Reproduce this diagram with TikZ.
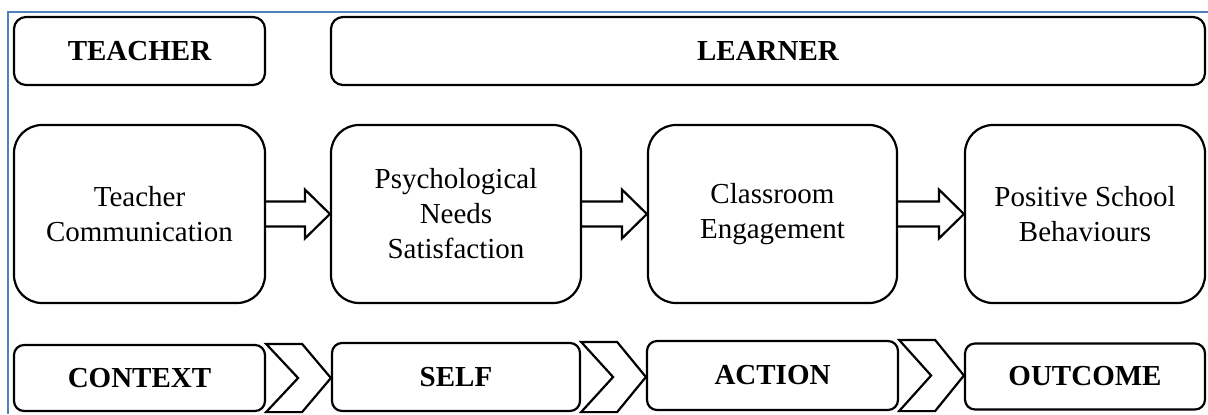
\documentclass[tikz,border=0pt]{standalone}
\usepackage{fontspec}
\setmainfont{Liberation Serif}
\usetikzlibrary{calc}
\definecolor{frameblue}{RGB}{79,129,189}

\begin{document}
\begin{tikzpicture}[x=0.5pt,y=-0.5pt]
	\tikzstyle{every node}=[draw,line width=1.1pt,align=center,inner sep=0pt,font=\fontsize{14.5}{17.5}\selectfont]
	\tikzstyle{head}=[rounded corners=6pt,minimum height=34pt,font=\fontsize{14.5}{17.5}\selectfont\bfseries]
	\tikzstyle{stage}=[rounded corners=14pt,minimum height=89pt]
	\tikzstyle{phase}=[rounded corners=5pt,minimum height=33pt,font=\fontsize{14.5}{17.5}\selectfont\bfseries]
	\tikzstyle{fat arrow}=[line width=1.1pt,line join=miter]
	\tikzstyle{chevron}=[line width=1.1pt,line join=miter]
	\useasboundingbox (0,0) rectangle (1208,414);
	\draw[line width=1pt,frameblue] (8,414) -- (8,12) -- (1208,12);
	\node[head,minimum width=125.5pt] (teacher) at (139.5,51) {TEACHER};
	\node[head,minimum width=437pt] (learner) at (768,51) {LEARNER};
	\node[stage,minimum width=125.5pt] (comm) at (139.5,214) {Teacher\\Communication};
	\node[stage,minimum width=125pt] (needs) at (456,214) {Psychological\\Needs\\Satisfaction};
	\node[stage,minimum width=124.5pt] (engage) at (772.5,214) {Classroom\\Engagement};
	\node[stage,minimum width=120pt] (behave) at (1085,214) {Positive School\\Behaviours};
	\node[phase,minimum width=125.5pt] (context) at (139.5,378) {CONTEXT};
	\node[phase,minimum width=124pt,minimum height=34pt] (self) at (456,377) {SELF};
	\node[phase,minimum width=125.5pt,minimum height=34.5pt] (action) at (772.5,375.5) {ACTION};
	\node[phase,minimum width=120pt] (outcome) at (1085,376.5) {OUTCOME};
	\foreach \a/\b in {comm/needs,needs/engage,engage/behave}
		\draw[fat arrow] ($(\a.east)+(0,-12.5)$) -- ($(\b.west)+(-25,-12.5)$) -- ++(0,-12) -- (\b.west) -- ++(-25,24.5) -- ++(0,-12) -- ($(\a.east)+(0,12.5)$);
	\foreach \a/\b in {context/self,self/action,action/outcome}
		\draw[chevron] (\a.north east) -- ++(36,0) -- (\a.east -| \b.west) -- ($(\a.south east)+(36,0)$) -- (\a.south east) -- ($(\a.east)+(32,0)$) -- cycle;
\end{tikzpicture}
\end{document}
